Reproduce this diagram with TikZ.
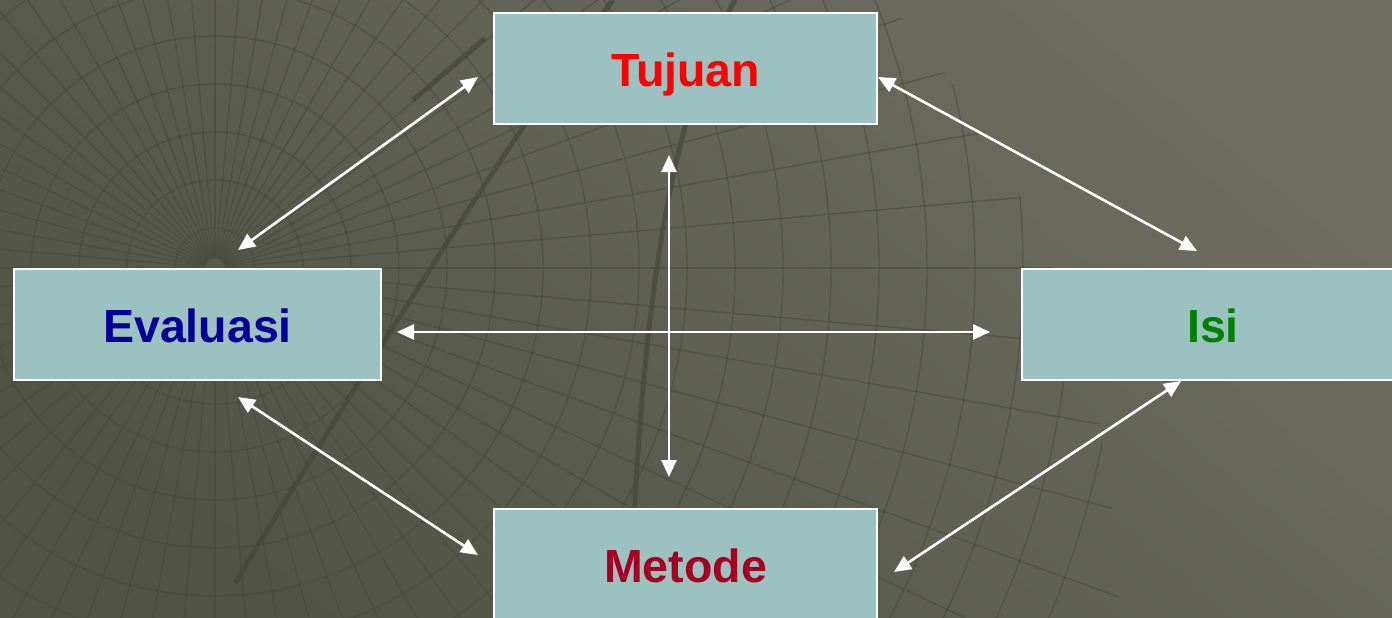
\documentclass[tikz,border=0pt]{standalone}
\usepackage{fontspec}
\setmainfont{Liberation Sans}
\usetikzlibrary{arrows.meta}
\definecolor{boxfill}{HTML}{9BC2C1}
\definecolor{bgdark}{HTML}{515347}
\definecolor{bglight}{HTML}{6D6E60}
\definecolor{gridline}{HTML}{45473B}
\definecolor{txtred}{HTML}{FF0000}
\definecolor{txtblue}{HTML}{000099}
\definecolor{txtgreen}{HTML}{008000}
\definecolor{txtcrimson}{HTML}{A50021}
\begin{document}
\begin{tikzpicture}[x=1pt,y=-1pt,
  topic/.style={draw=white, line width=2pt, fill=boxfill, minimum width=383pt,
    minimum height=111pt, inner sep=0pt, text height=36pt, text depth=0pt,
    font=\fontsize{46.5}{50}\selectfont\bfseries},
  link/.style={white, line width=2.6pt,
    {Triangle[length=17pt,width=15pt]}-{Triangle[length=17pt,width=15pt]}},
  gridrule/.style={gridline, line width=1.4pt, opacity=.5},
  heavyrule/.style={gridline, line width=5pt, opacity=.7}]

% backdrop
\useasboundingbox (0,0) rectangle (1392,618);
\shade[shading=axis, bottom color=bgdark, top color=bglight, shading angle=-40]
  (0,0) rectangle (1392,618);

% perspective grid
\begin{scope}
  \clip (0,0) -- (885,0) .. controls (985,110) and (1112,300) .. (1120,618)
    -- (0,618) -- cycle;
  \foreach \a in {0,5,...,355}
    \draw[gridrule] (215,268) ++(\a:10) -- ++(\a:1300);
  \foreach \r in {40,88,...,904}
    \draw[gridrule] (215,268) circle[radius=\r];
\end{scope}
\draw[heavyrule] (613,0) .. controls (530,110) and (420,280) .. (235,583);
\draw[heavyrule] (735,0) .. controls (672,110) and (640,300) .. (630,618);
\draw[heavyrule] (413,100) -- (485,38);

% topics
\node[topic, text=txtred] (tuj) at (685.5,68.5) {Tujuan};
\node[topic, minimum width=367pt, text=txtblue] (eva) at (197.5,324.5) {Evaluasi};
\node[topic, text=txtgreen] (isi) at (1213,324.5) {Isi};
\node[topic, text=txtcrimson] (met) at (685.5,564.5) {Metode};

% arrow end points near each topic
\coordinate (evaT) at (238,250);  \coordinate (tujE) at (478,77);
\coordinate (tujI) at (878,77);   \coordinate (isiT) at (1197,251);
\coordinate (evaI) at (397,332);  \coordinate (isiE) at (990,332);
\coordinate (tujM) at (669,155);  \coordinate (metT) at (669,477);
\coordinate (evaM) at (238,397);  \coordinate (metE) at (478,555);
\coordinate (isiM) at (1181,381); \coordinate (metI) at (894,572);

\draw[link] (evaT) -- (tujE);
\draw[link] (tujI) -- (isiT);
\draw[link] (evaI) -- (isiE);
\draw[link] (tujM) -- (metT);
\draw[link] (evaM) -- (metE);
\draw[link] (isiM) -- (metI);
\end{tikzpicture}
\end{document}
